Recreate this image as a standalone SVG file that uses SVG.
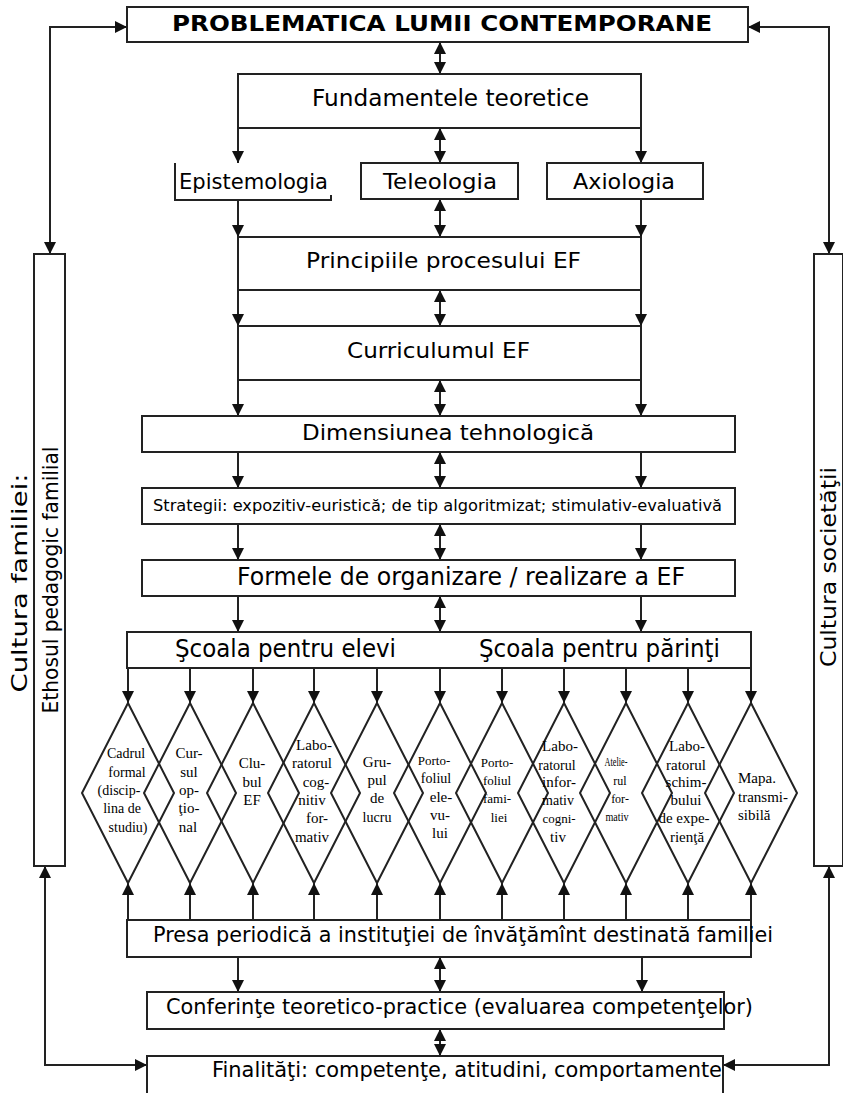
<svg xmlns="http://www.w3.org/2000/svg" width="843" height="1093" viewBox="0 0 843 1093">
<style>
.bx{fill:#fff;stroke:#222;stroke-width:2}
.dm{fill:none;stroke:#222;stroke-width:2}
.ln{fill:none;stroke:#222;stroke-width:2}
.a1{marker-end:url(#ah)}
.a2{marker-start:url(#ah);marker-end:url(#ah)}
.t{font-family:"DejaVu Sans",Verdana,sans-serif;fill:#000}
.s{font-family:"Liberation Serif","Times New Roman",serif;fill:#000;text-anchor:middle}
</style>
<defs>
<marker id="ah" viewBox="0 0 12 12" refX="12" refY="6" markerWidth="12" markerHeight="12" markerUnits="userSpaceOnUse" orient="auto-start-reverse">
<path d="M0,0 L12,6 L0,12 z" fill="#111"/>
</marker>
</defs>
<rect width="843" height="1093" fill="#fff"/>

<g id="connectors">
<path class="ln a2" d="M50,254 V27 H127"/>
<path class="ln a2" d="M829,254 V27 H748"/>
<path class="ln a2" d="M45,866 V1065 H147"/>
<path class="ln a2" d="M829,866 V1065 H723"/>
<path class="ln a2" d="M440,42 V74"/>
<path class="ln a1" d="M238,128 V163"/>
<path class="ln a1" d="M641,128 V163"/>
<path class="ln a2" d="M440,128 V163"/>
<path class="ln a1" d="M238,200 V237"/>
<path class="ln a1" d="M641,199 V237"/>
<path class="ln a2" d="M440,199 V237"/>
<path class="ln a1" d="M238,290 V326"/>
<path class="ln a1" d="M641,290 V326"/>
<path class="ln a2" d="M440,290 V326"/>
<path class="ln a1" d="M238,380 V416"/>
<path class="ln a1" d="M641,380 V416"/>
<path class="ln a2" d="M440,380 V416"/>
<path class="ln a1" d="M238,452 V488"/>
<path class="ln a1" d="M641,452 V488"/>
<path class="ln a2" d="M440,452 V488"/>
<path class="ln a1" d="M238,524 V560"/>
<path class="ln a1" d="M641,524 V560"/>
<path class="ln a2" d="M440,524 V560"/>
<path class="ln a1" d="M238,596 V632"/>
<path class="ln a1" d="M641,596 V632"/>
<path class="ln a2" d="M440,596 V632"/>
<path class="ln" d="M440,632 V668"/>
<path class="ln a1" d="M128,668 V703"/>
<path class="ln a1" d="M190,668 V703"/>
<path class="ln a1" d="M253,668 V703"/>
<path class="ln a1" d="M314,668 V703"/>
<path class="ln a1" d="M377,668 V703"/>
<path class="ln a1" d="M440,668 V703"/>
<path class="ln a1" d="M502,668 V703"/>
<path class="ln a1" d="M564,668 V703"/>
<path class="ln a1" d="M626,668 V703"/>
<path class="ln a1" d="M688,668 V703"/>
<path class="ln a1" d="M751,668 V703"/>
<path class="ln a1" d="M128,920 V883"/>
<path class="ln a1" d="M190,920 V883"/>
<path class="ln a1" d="M253,920 V883"/>
<path class="ln a1" d="M314,920 V883"/>
<path class="ln a1" d="M377,920 V883"/>
<path class="ln a1" d="M440,920 V883"/>
<path class="ln a1" d="M502,920 V883"/>
<path class="ln a1" d="M564,920 V883"/>
<path class="ln a1" d="M626,920 V883"/>
<path class="ln a1" d="M688,920 V883"/>
<path class="ln a1" d="M751,920 V883"/>
<path class="ln a1" d="M238,957 V992"/>
<path class="ln a1" d="M642,957 V992"/>
<path class="ln a2" d="M440,957 V992"/>
<path class="ln a2" d="M440,1029 V1056"/>
</g>

<g id="n-problematica">
<rect class="bx" x="127" y="7" width="621" height="35"/>
<text class="t" x="172" y="31" font-size="22" font-weight="bold" textLength="540" lengthAdjust="spacingAndGlyphs">PROBLEMATICA LUMII CONTEMPORANE</text>
</g>
<g id="n-fundamentele">
<rect class="bx" x="238" y="74" width="403" height="54"/>
<text class="t" x="312" y="106" font-size="23" textLength="277" lengthAdjust="spacingAndGlyphs">Fundamentele teoretice</text>
</g>
<g id="n-epistemologia">
<path class="ln" d="M175,163 V200 H331 V195"/>
<text class="t" x="179" y="189" font-size="22" textLength="149" lengthAdjust="spacingAndGlyphs">Epistemologia</text>
</g>
<g id="n-teleologia">
<rect class="bx" x="361" y="163" width="157" height="36"/>
<text class="t" x="383" y="189" font-size="22" textLength="114" lengthAdjust="spacingAndGlyphs">Teleologia</text>
</g>
<g id="n-axiologia">
<rect class="bx" x="547" y="163" width="156" height="36"/>
<text class="t" x="573" y="189" font-size="22" textLength="102" lengthAdjust="spacingAndGlyphs">Axiologia</text>
</g>
<g id="n-principiile">
<rect class="bx" x="238" y="237" width="403" height="53"/>
<text class="t" x="306" y="268" font-size="22" textLength="275" lengthAdjust="spacingAndGlyphs">Principiile procesului EF</text>
</g>
<g id="n-curriculum">
<rect class="bx" x="238" y="326" width="403" height="54"/>
<text class="t" x="347" y="358" font-size="22" textLength="183" lengthAdjust="spacingAndGlyphs">Curriculumul EF</text>
</g>
<g id="n-dimensiunea">
<rect class="bx" x="142" y="416" width="593" height="36"/>
<text class="t" x="302" y="440" font-size="22" textLength="292" lengthAdjust="spacingAndGlyphs">Dimensiunea tehnologică</text>
</g>
<g id="n-strategii">
<rect class="bx" x="142" y="488" width="593" height="36"/>
<text class="t" x="153" y="511" font-size="15" textLength="569" lengthAdjust="spacingAndGlyphs">Strategii: expozitiv-euristică; de tip algoritmizat; stimulativ-evaluativă</text>
</g>
<g id="n-formele">
<rect class="bx" x="142" y="560" width="593" height="36"/>
<text class="t" x="237" y="585" font-size="24" textLength="448" lengthAdjust="spacingAndGlyphs">Formele de organizare / realizare a EF</text>
</g>
<g id="n-scoala">
<rect class="bx" x="127" y="632" width="624" height="36"/>
<text class="t" x="175" y="657" font-size="24" textLength="221" lengthAdjust="spacingAndGlyphs">Şcoala pentru elevi</text>
<text class="t" x="479" y="657" font-size="24" textLength="241" lengthAdjust="spacingAndGlyphs">Şcoala pentru părinţi</text>
</g>

<g id="n-d1">
<polygon class="dm" points="128,703 174,793 128,883 82,793"/>
<text class="s" font-size="14"><tspan x="126" y="758">Cadrul</tspan><tspan x="127" y="777">formal</tspan><tspan x="119" y="795">(discip-</tspan><tspan x="122" y="813">lina de</tspan><tspan x="128" y="832">studiu)</tspan></text>
</g>
<g id="n-d2">
<polygon class="dm" points="190,703 236,793 190,883 144,793"/>
<text class="s" font-size="15"><tspan x="189" y="758">Cur-</tspan><tspan x="189" y="777">sul</tspan><tspan x="189" y="795">op-</tspan><tspan x="189" y="813">ţio-</tspan><tspan x="188" y="832">nal</tspan></text>
</g>
<g id="n-d3">
<polygon class="dm" points="253,703 299,793 253,883 207,793"/>
<text class="s" font-size="15"><tspan x="252" y="768">Clu-</tspan><tspan x="252" y="787">bul</tspan><tspan x="252" y="805">EF</tspan></text>
</g>
<g id="n-d4">
<polygon class="dm" points="314,703 360,793 314,883 268,793"/>
<text class="s" font-size="15"><tspan x="314" y="750">Labo-</tspan><tspan x="312" y="768">ratorul</tspan><tspan x="316" y="787">cog-</tspan><tspan x="312" y="805">nitiv</tspan><tspan x="317" y="823">for-</tspan><tspan x="312" y="842">mativ</tspan></text>
</g>
<g id="n-d5">
<polygon class="dm" points="377,703 423,793 377,883 331,793"/>
<text class="s" font-size="15"><tspan x="377" y="767">Gru-</tspan><tspan x="377" y="785">pul</tspan><tspan x="377" y="803">de</tspan><tspan x="377" y="822" font-size="14">lucru</tspan></text>
</g>
<g id="n-d6">
<polygon class="dm" points="440,703 486,793 440,883 394,793"/>
<text class="s" font-size="14"><tspan x="434" y="765" font-size="13">Porto-</tspan><tspan x="436" y="783">foliul</tspan><tspan x="441" y="802" font-size="15">ele-</tspan><tspan x="440" y="820" font-size="15">vu-</tspan><tspan x="440" y="838" font-size="15">lui</tspan></text>
</g>
<g id="n-d7">
<polygon class="dm" points="502,703 548,793 502,883 456,793"/>
<text class="s" font-size="13"><tspan x="497" y="767">Porto-</tspan><tspan x="497" y="785">foliul</tspan><tspan x="497" y="803">fami-</tspan><tspan x="499" y="822">liei</tspan></text>
</g>
<g id="n-d8">
<polygon class="dm" points="564,703 610,793 564,883 518,793"/>
<text class="s" font-size="14"><tspan x="560" y="751" font-size="15">Labo-</tspan><tspan x="557" y="770">ratorul</tspan><tspan x="559" y="787" font-size="15">infor-</tspan><tspan x="558" y="805">mativ</tspan><tspan x="559" y="823" font-size="13">cogni-</tspan><tspan x="558" y="842" font-size="15">tiv</tspan></text>
</g>
<g id="n-d9">
<polygon class="dm" points="626,703 672,793 626,883 580,793"/>
<text class="s" font-size="12"><tspan x="616" y="766" textLength="23" lengthAdjust="spacingAndGlyphs">Atelie-</tspan><tspan x="620" y="785">rul</tspan><tspan x="620" y="803">for-</tspan><tspan x="617" y="821" textLength="23" lengthAdjust="spacingAndGlyphs">mativ</tspan></text>
</g>
<g id="n-d10">
<polygon class="dm" points="688,703 734,793 688,883 642,793"/>
<text class="s" font-size="15"><tspan x="687" y="751">Labo-</tspan><tspan x="686" y="770">ratorul</tspan><tspan x="686" y="787">schim-</tspan><tspan x="686" y="805">bului</tspan><tspan x="684" y="823">de expe-</tspan><tspan x="687" y="842">rienţă</tspan></text>
</g>
<g id="n-d11">
<polygon class="dm" points="751,703 797,793 751,883 705,793"/>
<text class="s" font-size="15" style="text-anchor:start"><tspan x="738" y="783">Mapa.</tspan><tspan x="738" y="802">transmi-</tspan><tspan x="738" y="820">sibilă</tspan></text>
</g>

<g id="n-presa">
<rect class="bx" x="127" y="920" width="624" height="37"/>
<text class="t" x="153" y="942" font-size="22" textLength="620" lengthAdjust="spacingAndGlyphs">Presa periodică a instituţiei de învăţămînt destinată familiei</text>
</g>
<g id="n-conferinte">
<rect class="bx" x="147" y="992" width="577" height="37"/>
<text class="t" x="166" y="1014" font-size="22" textLength="587" lengthAdjust="spacingAndGlyphs">Conferinţe teoretico-practice (evaluarea competenţelor)</text>
</g>
<g id="n-finalitati">
<rect class="bx" x="147" y="1056" width="576" height="50"/>
<text class="t" x="212" y="1077" font-size="22" textLength="510" lengthAdjust="spacingAndGlyphs">Finalităţi: competenţe, atitudini, comportamente</text>
</g>

<g id="n-familie">
<rect class="bx" x="34" y="254" width="31" height="612"/>
<text class="t" transform="translate(27,583) rotate(-90)" font-size="22" text-anchor="middle" textLength="219" lengthAdjust="spacingAndGlyphs">Cultura familiei:</text>
<text class="t" transform="translate(58,580) rotate(-90)" font-size="22" text-anchor="middle" textLength="267" lengthAdjust="spacingAndGlyphs">Ethosul pedagogic familial</text>
</g>
<g id="n-societate">
<rect class="bx" x="814" y="254" width="29" height="612"/>
<text class="t" transform="translate(836,567) rotate(-90)" font-size="22" text-anchor="middle" textLength="200" lengthAdjust="spacingAndGlyphs">Cultura societăţii</text>
</g>
</svg>
